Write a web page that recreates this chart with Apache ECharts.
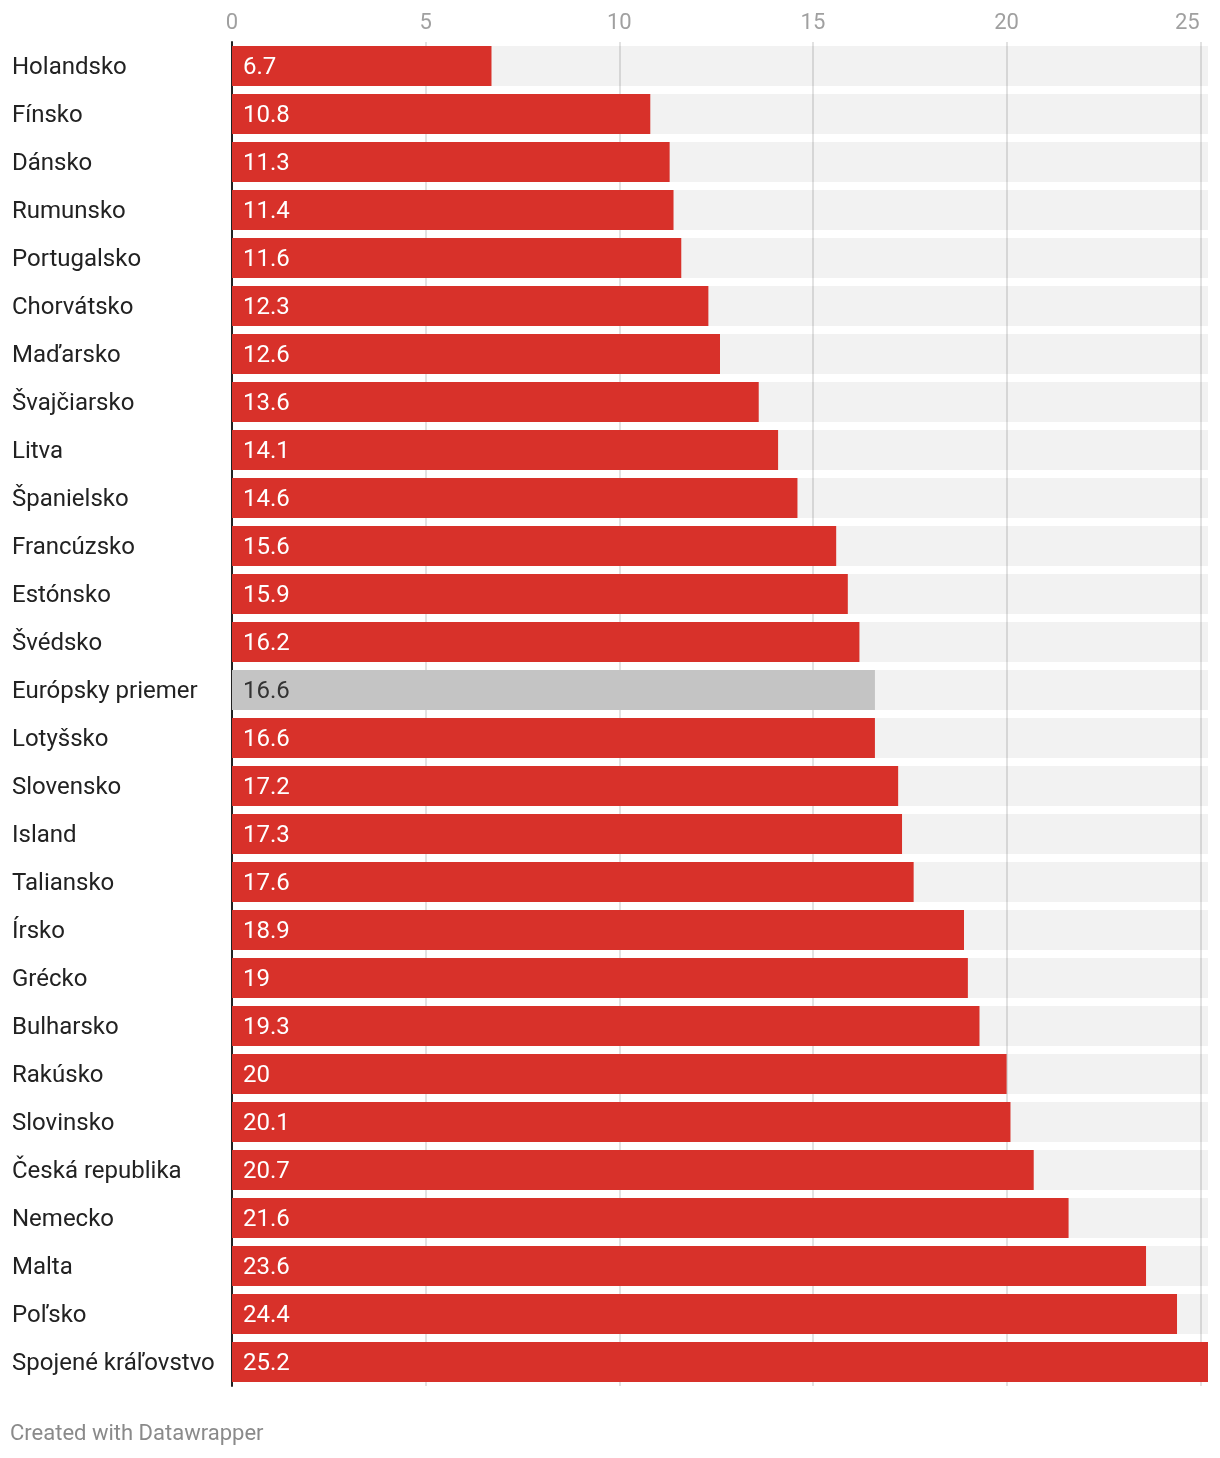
<!DOCTYPE html>
<html>
<head>
<meta charset="utf-8">
<script src="https://cdn.jsdelivr.net/npm/echarts@6/dist/echarts.min.js"></script>
<style>
html,body{margin:0;padding:0;background:#fff;}
#chart{width:1220px;height:1458px;}
</style>
</head>
<body>
<div id="chart"></div>
<script>
const categories = ["Holandsko","Fínsko","Dánsko","Rumunsko","Portugalsko","Chorvátsko","Maďarsko","Švajčiarsko","Litva","Španielsko","Francúzsko","Estónsko","Švédsko","Európsky priemer","Lotyšsko","Slovensko","Island","Taliansko","Írsko","Grécko","Bulharsko","Rakúsko","Slovinsko","Česká republika","Nemecko","Malta","Poľsko","Spojené kráľovstvo"];
const values = [6.7,10.8,11.3,11.4,11.6,12.3,12.6,13.6,14.1,14.6,15.6,15.9,16.2,16.6,16.6,17.2,17.3,17.6,18.9,19,19.3,20,20.1,20.7,21.6,23.6,24.4,25.2];
const highlight = "Európsky priemer";
const tickValues = [0,5,10,15,20,25];

const FONT = 'Roboto, "Noto Sans", sans-serif';
const chart = echarts.init(document.getElementById('chart'), null, {renderer:'canvas'});
chart.setOption({
  animation:false,
  backgroundColor:'#ffffff',
  grid:{left:232, right:12, top:42, height:1344, containLabel:false},
  xAxis:{
    type:'value', position:'top', min:0, max:25.2, interval:5,
    axisLine:{show:false}, axisTick:{show:false},
    splitLine:{show:true, showMaxLine:false, lineStyle:{color:'#e2e2e2', width:2}},
    axisLabel:{
      color:'#a0a0a0', fontSize:22, fontFamily:FONT, margin:8,
      showMaxLabel:true,
      formatter:function(v){
        if (tickValues.indexOf(v) < 0) return '';
        if (v === 25) return '{r|25}';
        return String(v);
      },
      rich:{r:{color:'#a0a0a0', fontSize:22, fontFamily:FONT, padding:[0,26,0,0]}}
    }
  },
  yAxis:{
    type:'category', inverse:true, data:categories,
    axisLine:{show:true, lineStyle:{color:'#222', width:2}},
    axisTick:{show:false},
    axisLabel:{color:'#222', fontSize:24, fontFamily:FONT, align:'left', margin:220,
      formatter:function(v){return '{t|' + v + '}';},
      rich:{t:{color:'#222', fontSize:24, fontFamily:FONT, padding:[4,0,0,0]}}}
  },
  series:[{
    type:'bar',
    data:values.map((v,i)=>({
      value:v,
      itemStyle:{color: categories[i]===highlight ? '#c4c4c4' : '#d8312a'}
    })),
    barCategoryGap:'16.67%',
    showBackground:true,
    backgroundStyle:{color:'rgba(0,0,0,0.05)'},
    label:{show:true, position:'insideLeft', distance:11,
      formatter:function(p){
        return (categories[p.dataIndex]===highlight ? '{d|' : '{w|') + p.value + '}';
      },
      rich:{
        w:{color:'#ffffff', fontSize:24, fontFamily:FONT, padding:[4,0,0,0]},
        d:{color:'#333333', fontSize:24, fontFamily:FONT, padding:[4,0,0,0]}
      }}
  }],
  graphic:[{
    type:'text', left:10, top:1423,
    style:{text:'Created with Datawrapper', fill:'#8a8a8a', fontSize:22, fontFamily:FONT}
  }]
});
</script>
</body>
</html>
